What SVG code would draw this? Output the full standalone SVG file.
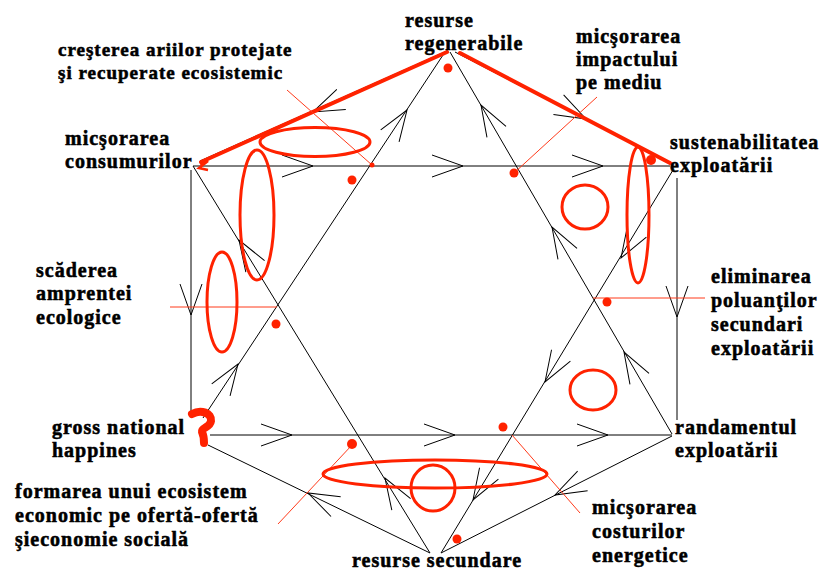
<svg xmlns="http://www.w3.org/2000/svg" xmlns:xlink="http://www.w3.org/1999/xlink" width="823" height="572" viewBox="0 0 823 572">
<style>
text{font-family:"Liberation Serif","Times New Roman",serif;font-weight:bold;font-size:20px;letter-spacing:1px;fill:#000;stroke:#000;stroke-width:0.55px}
.sm{font-size:19px}
.ln{stroke:#000;stroke-width:1;fill:none}
.rt{stroke:#ff2200;stroke-width:4;fill:none;stroke-linecap:round}
.rl{stroke:#ff3a1a;stroke-width:1;fill:none}
.re{stroke:#ff2200;stroke-width:3;fill:none}
.rd{fill:#ff2200}
</style>
<defs>
<path id="ah" d="M-31,-11 L0,0 L-31,11" fill="none" stroke="#000" stroke-width="1"/>
</defs>
<rect width="823" height="572" fill="#fff"/>

<g id="connectors">
<line class="ln" x1="447" y1="51" x2="200" y2="161"/>
<line class="ln" x1="455" y1="52" x2="670" y2="163"/>
<line class="ln" x1="191" y1="170" x2="191" y2="414"/>
<line class="ln" x1="677" y1="178" x2="677" y2="420"/>
<line class="ln" x1="208" y1="445" x2="430" y2="553"/>
<line class="ln" x1="672" y1="436" x2="441" y2="553"/>
<line class="ln" x1="445" y1="52" x2="203" y2="418"/>
<line class="ln" x1="450" y1="52" x2="672" y2="434"/>
<line class="ln" x1="210" y1="435" x2="672" y2="435"/>
<line class="ln" x1="193" y1="166" x2="670" y2="166"/>
<line class="ln" x1="193" y1="166" x2="430" y2="553"/>
<line class="ln" x1="673" y1="170" x2="441" y2="553"/>
<use xlink:href="#ah" transform="translate(313,166)"/>
<use xlink:href="#ah" transform="translate(463,166)"/>
<use xlink:href="#ah" transform="translate(603,166)"/>
<use xlink:href="#ah" transform="translate(292,435)"/>
<use xlink:href="#ah" transform="translate(455,435)"/>
<use xlink:href="#ah" transform="translate(608,435)"/>
<use xlink:href="#ah" transform="translate(191,315) rotate(90)"/>
<use xlink:href="#ah" transform="translate(677,317) rotate(90)"/>
<use xlink:href="#ah" transform="translate(313,112) rotate(156)"/>
<use xlink:href="#ah" transform="translate(586,119) rotate(27.6)"/>
<use xlink:href="#ah" transform="translate(308,493) rotate(-154)"/>
<use xlink:href="#ah" transform="translate(555,495) rotate(153)"/>
<use xlink:href="#ah" transform="translate(407,110) rotate(-56.5)"/>
<use xlink:href="#ah" transform="translate(238,364) rotate(-56.5)"/>
<use xlink:href="#ah" transform="translate(481,105) rotate(-120)"/>
<use xlink:href="#ah" transform="translate(552,227) rotate(-120)"/>
<use xlink:href="#ah" transform="translate(624,352) rotate(-120)"/>
<use xlink:href="#ah" transform="translate(239,240) rotate(-121.5)"/>
<use xlink:href="#ah" transform="translate(385,478) rotate(-121.5)"/>
<use xlink:href="#ah" transform="translate(621,258) rotate(121)"/>
<use xlink:href="#ah" transform="translate(545,382) rotate(121)"/>
<use xlink:href="#ah" transform="translate(473,500) rotate(121)"/>
</g>

<g id="annotations">
<line class="rt" x1="447" y1="52" x2="201" y2="162"/>
<line class="rt" x1="460" y1="53" x2="670" y2="163"/>
<path d="M200,164 L208,161 L199,168 L208,170" stroke="#ff2200" stroke-width="2.5" fill="none"/>
<path d="M192,414 C201,409 212,413 211,421 C210,428 201,427 202,432 C204,436 204,440 204,443" stroke="#ff2200" stroke-width="8" fill="none" stroke-linecap="round" stroke-linejoin="round"/>
<line class="rl" x1="287" y1="90" x2="372" y2="165"/>
<line class="rl" x1="170" y1="307" x2="277" y2="307"/>
<line class="rl" x1="597" y1="97" x2="514" y2="173"/>
<line class="rl" x1="593" y1="298" x2="705" y2="298"/>
<line class="rl" x1="278" y1="524" x2="352" y2="445"/>
<line class="rl" x1="512" y1="435" x2="580" y2="513"/>
<ellipse class="re" cx="315" cy="142" rx="55" ry="14.5"/>
<ellipse class="re" cx="257" cy="215" rx="17" ry="65"/>
<ellipse class="re" cx="222" cy="302" rx="15" ry="50"/>
<ellipse class="re" cx="638" cy="215" rx="11" ry="68"/>
<ellipse class="re" cx="585" cy="207" rx="23" ry="22"/>
<ellipse class="re" cx="593" cy="390" rx="23" ry="20"/>
<ellipse class="re" cx="435" cy="474" rx="112" ry="14"/>
<ellipse class="re" cx="433" cy="488" rx="22" ry="23"/>
<circle class="rd" cx="448" cy="68" r="4.5"/>
<circle class="rd" cx="352" cy="180" r="4.5"/>
<circle class="rd" cx="372" cy="165" r="2.5"/>
<circle class="rd" cx="276" cy="324" r="4.5"/>
<circle class="rd" cx="352" cy="444" r="5"/>
<circle class="rd" cx="457" cy="539" r="4.5"/>
<circle class="rd" cx="503" cy="427" r="4.5"/>
<circle class="rd" cx="607" cy="302" r="4.5"/>
<circle class="rd" cx="651" cy="160" r="5"/>
<circle class="rd" cx="514" cy="173" r="4.5"/>
</g>

<g id="n-resurse-regenerabile"><text x="405" y="27">resurse</text><text x="405" y="50">regenerabile</text></g>
<g id="n-cresterea"><text class="sm" x="58" y="56">creşterea ariilor protejate</text><text class="sm" x="58" y="79">şi recuperate ecosistemic</text></g>
<g id="n-impact"><text x="576" y="43">micşorarea</text><text x="576" y="66">impactului</text><text x="576" y="89">pe mediu</text></g>
<g id="n-sustenabilitatea"><text x="670" y="149">sustenabilitatea</text><text x="670" y="172">exploatării</text></g>
<g id="n-consumuri"><text x="65" y="145">micşorarea</text><text x="65" y="168">consumurilor</text></g>
<g id="n-amprenta"><text x="36" y="277">scăderea</text><text x="36" y="300">amprentei</text><text x="36" y="324">ecologice</text></g>
<g id="n-poluanti"><text x="711" y="283">eliminarea</text><text x="711" y="307">poluanţilor</text><text x="711" y="331">secundari</text><text x="711" y="355">exploatării</text></g>
<g id="n-gnh"><text x="52" y="434">gross national</text><text x="52" y="457">happines</text></g>
<g id="n-randament"><text x="675" y="434">randamentul</text><text x="675" y="457">exploatării</text></g>
<g id="n-ecosistem"><text x="15" y="498">formarea unui ecosistem</text><text x="15" y="522">economic pe ofertă-ofertă</text><text x="15" y="546">şieconomie socială</text></g>
<g id="n-costuri"><text x="592" y="514">micşorarea</text><text x="592" y="538">costurilor</text><text x="592" y="562">energetice</text></g>
<g id="n-resurse-secundare"><text x="352" y="567">resurse secundare</text></g>
</svg>
